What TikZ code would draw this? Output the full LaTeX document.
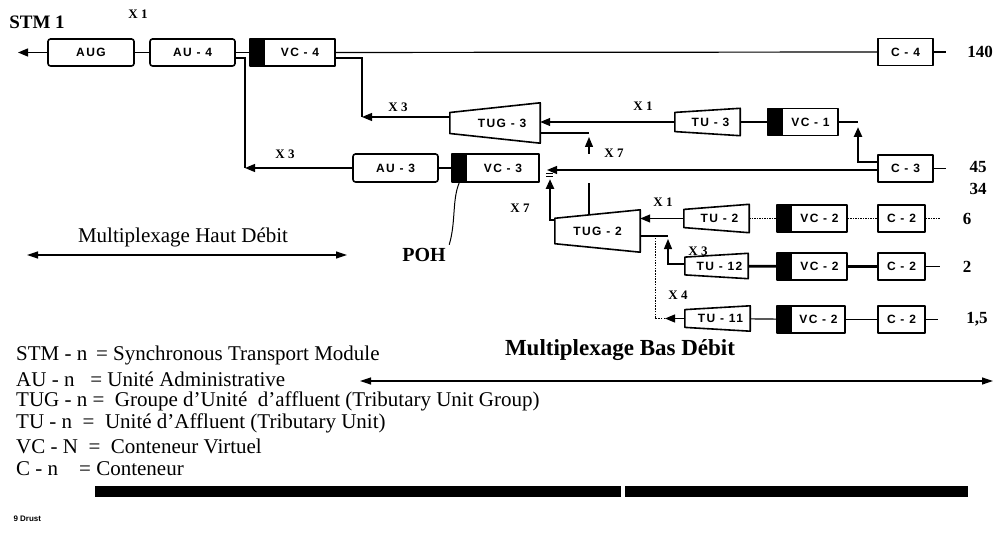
\documentclass[tikz,border=0pt]{standalone}
\usepackage{fontspec}
\setmainfont{Liberation Serif}
\newfontfamily\labfont[LetterSpace=12]{Liberation Sans}
\newfontfamily\smallsans{Liberation Sans}
\usetikzlibrary{arrows.meta,calc}
\newcommand{\blab}{\labfont\bfseries\fontsize{12}{13}\selectfont}
\newcommand{\taperbox}[2]{\draw[boxborder] (#1.north east) -- (#1.south east) -- ($(#1.south west)!#2!(#1.north west)$) -- ($(#1.north west)!#2!(#1.south west)$) -- cycle;}
\begin{document}
\begin{tikzpicture}[x=1pt,y=-1pt,
  boxborder/.style={line width=1.6pt, line join=round},
  plainbox/.style={draw, boxborder, minimum height=27pt, inner sep=0pt, font=\blab},
  roundbox/.style={plainbox, rounded corners=2.5pt},
  vcbox/.style={plainbox, path picture={\fill[black] (path picture bounding box.south west) rectangle ([xshift=15pt]path picture bounding box.north west);}},
  tubox/.style={inner sep=0pt, minimum height=27pt, font=\blab},
  conn/.style={line width=1.2pt},
  heavy/.style={line width=2.8pt},
  dotconn/.style={line width=1pt, dash pattern=on 1.5pt off 1pt},
  tip/.style={-{Triangle[length=10pt,width=8pt]}},
  dtip/.style={{Triangle[length=11pt,width=7pt]}-{Triangle[length=11pt,width=7pt]}},
  mult/.style={font=\bfseries\fontsize{13}{14}\selectfont},
  legend/.style={anchor=west, inner sep=0pt, font=\fontsize{21}{22}\selectfont},
  rate/.style={font=\bfseries\fontsize{17}{18}\selectfont}
]
\useasboundingbox (0,0) rectangle (1001,556);

% ---- top row
\node[font=\bfseries\fontsize{19}{20}\selectfont] (stm1) at (37,22) {STM 1};
\node[mult] (m1) at (138,14) {X 1};
\node[roundbox, minimum width=86pt] (aug) at (91,52.5) {AUG};
\node[roundbox, minimum width=85pt] (au4) at (192.5,52.5) {AU - 4};
\node[vcbox, minimum width=85pt] (vc4) at (292.5,52.5) {\hspace*{15pt}VC - 4};
\node[plainbox, minimum width=55pt] (c4) at (905.5,52) {C - 4};
\node[rate] (r140) at (980,52) {140};

\coordinate (stmout) at (18,52.5);
\draw[conn,tip] (aug.west) -- (stmout);
\draw[conn] (aug) -- (au4);
\draw[conn] (au4) -- (vc4);
\draw[conn] (vc4) -- (c4);
\draw[conn] (c4.east) -- ++(12,0);

% ---- AU-3 / VC-3
\node[roundbox, minimum width=85pt, minimum height=28pt] (au3) at (395.5,168) {AU - 3};
\node[vcbox, minimum width=87pt, minimum height=28pt] (vc3) at (495.5,168) {\hspace*{15pt}VC - 3};
\draw[conn] (au3) -- (vc3);
\coordinate (au4out) at (235,58);
\coordinate (au4down) at (245,58);
\coordinate (au3turn) at (245,168);
\draw[conn] (au4out) -- (au4down) -- (au3turn);
\draw[conn,tip] (au3.west) -- (au3turn);
\node[mult] (m3a) at (285,154) {X 3};

% ---- TUG-3 / TU-3 / VC-1
\node[tubox, minimum width=90pt, minimum height=40pt] (tug3) at (495,123) {\hspace*{14pt}TUG - 3};
\taperbox{tug3}{0.24}
\coordinate (vc4out) at (335,58);
\coordinate (vc4down) at (362,58);
\coordinate (tug3turn) at (362,117);
\coordinate (tug3in) at (450,117);
\draw[conn] (vc4out) -- (vc4down) -- (tug3turn);
\draw[conn,tip] (tug3in) -- (tug3turn);
\node[mult] (m3b) at (398,107) {X 3};

\node[tubox, minimum width=65pt] (tu3) at (707.5,122) {\hspace*{6pt}TU - 3};
\taperbox{tu3}{0.15}
\draw[conn,tip] (tu3.west) -- (tug3.east |- tu3.west);
\node[mult] (m1b) at (643,106) {X 1};
\node[vcbox, minimum width=70pt] (vc1) at (803,122) {\hspace*{15pt}VC - 1};
\draw[conn] (tu3) -- (vc1);
\draw[conn] (vc1.east) -- ++(19,0);

% ---- C-3
\node[plainbox, minimum width=55pt] (c3) at (905.5,168.5) {C - 3};
\coordinate (c3turn) at (858,162);
\coordinate (vc1feed) at (858,127);
\draw[heavy,tip] (c3.west |- c3turn) -- (c3turn) -- (vc1feed);
\draw[conn] (c3.east) -- ++(12,0);
\node[rate] (r45) at (978,167) {45};
\node[rate] (r34) at (978,189) {34};
\coordinate (vc3in) at (547,170);
\draw[conn,tip] (c3.west |- vc3in) -- (vc3in);

% ---- X7 to TUG-3
\coordinate (tug3stub) at (589,133);
\coordinate (x7top) at (589,137);
\coordinate (x7base) at (589,154);
\coordinate (x7low) at (589,183);
\coordinate (tug2top) at (589,214);
\draw[conn] (tug3.east |- tug3stub) -- (tug3stub);
\draw[conn,tip] (x7base) -- (x7top);
\draw[conn] (tug2top) -- (x7low);
\node[mult] (m7a) at (614,153) {X 7};

% ---- POH
\node[font=\bfseries\fontsize{20}{22}\selectfont] (poh) at (424,255) {POH};
\draw[line width=1pt] ($(vc3.south west)+(8,0)$) .. controls (452,200) and (456,222) .. (poh.north east);

% ---- Haut debit
\node[font=\fontsize{21}{22}\selectfont] (haut) at (183,237) {Multiplexage Haut Débit};
\coordinate (hautL) at (27,255);
\coordinate (hautR) at (347,255);
\draw[conn,dtip] (hautL) -- (hautR);

% ---- TUG-2
\node[tubox, minimum width=85pt, minimum height=42pt] (tug2) at (597.5,231) {TUG - 2};
\taperbox{tug2}{0.2}
\coordinate (tug2turn) at (550,220);
\coordinate (vc3feed) at (550,179);
\draw[heavy,tip] (tug2.west |- tug2turn) -- (tug2turn) -- (vc3feed);
\draw[line width=0.8pt] (546,173) -- (553,173) (546,176) -- (553,176);
\node[mult] (m7b) at (520,208) {X 7};

% row 1
\node[tubox, minimum width=65pt, minimum height=28pt] (tu2) at (716.5,218.5) {\hspace*{6pt}TU - 2};
\taperbox{tu2}{0.18}
\draw[conn,tip] (tu2.west) -- (tug2.east |- tu2.west);
\node[mult] (m1c) at (663,202) {X 1};
\node[vcbox, minimum width=70pt] (vc2a) at (812,218.5) {\hspace*{15pt}VC - 2};
\node[plainbox, minimum width=47pt] (c2a) at (901.5,218.5) {C - 2};
\draw[dotconn] (tu2) -- (vc2a);
\draw[dotconn] (vc2a) -- (c2a);
\draw[dotconn] (c2a.east) -- ++(14,0);
\node[rate] (r6) at (967,219) {6};

% row 2
\node[tubox, minimum width=63pt, minimum height=25pt] (tu12) at (716.5,266) {\hspace*{6pt}TU - 12};
\taperbox{tu12}{0.15}
\node[vcbox, minimum width=70pt] (vc2b) at (812,266.5) {\hspace*{15pt}VC - 2};
\node[plainbox, minimum width=47pt] (c2b) at (901.5,266.5) {C - 2};
\draw[heavy] (tu12) -- (vc2b);
\draw[heavy] (vc2b) -- (c2b);
\draw[conn] (c2b.east) -- ++(14,0);
\node[rate] (r2) at (967,267) {2};
\coordinate (tug2low) at (668,236);
\coordinate (tu12turn) at (668,264);
\coordinate (tu12tip) at (668,239);
\draw[conn] (tug2.east |- tug2low) -- (tug2low);
\draw[conn,tip] (tu12.west |- tu12turn) -- (tu12turn) -- (tu12tip);
\node[mult] (m3c) at (698,251) {X 3};

% row 3
\node[tubox, minimum width=65pt, minimum height=25pt] (tu11) at (717.5,318.5) {\hspace*{6pt}TU - 11};
\taperbox{tu11}{0.15}
\node[vcbox, minimum width=68pt] (vc2c) at (811,319.5) {\hspace*{15pt}VC - 2};
\node[plainbox, minimum width=47pt] (c2c) at (901.5,319.5) {C - 2};
\draw[conn] (tu11) -- (vc2c);
\draw[conn] (vc2c) -- (c2c);
\draw[conn] (c2c.east) -- ++(12,0);
\node[rate] (r15) at (977,319) {1,5};
\coordinate (tu11tip) at (665,318.5);
\coordinate (tu11turn) at (655,318.5);
\coordinate (tu11top) at (655,236);
\draw[conn,tip] (tu11.west) -- (tu11tip);
\draw[line width=1pt, dash pattern=on 1.5pt off 1.2pt] (tu11tip) -- (tu11turn) -- (tu11top);
\node[mult] (m4) at (678,295) {X 4};

% ---- Bas debit
\node[font=\bfseries\fontsize{23}{24}\selectfont] (bas) at (620,350) {Multiplexage Bas Débit};
\coordinate (basL) at (360,381);
\coordinate (basR) at (993,381);
\draw[conn,dtip] (basL) -- (basR);

% ---- legend
\node[legend] (l1) at (16,355) {STM - n \,= Synchronous Transport Module};
\node[legend] (l2) at (16,379) {AU - n \ \ = Unité Administrative};
\node[legend] (l3) at (16,401) {TUG - n = \ Groupe d'Unité \ d'affluent (Tributary Unit Group)};
\node[legend] (l4) at (16,423) {TU - n \ = \ Unité d'Affluent (Tributary Unit)};
\node[legend] (l5) at (16,446) {VC - N \ = \ Conteneur Virtuel};
\node[legend] (l6) at (16,469) {C - n \ \ \ = Conteneur};

% ---- bar
\fill[black] (95,486) rectangle (621,497);
\fill[black] (625,486) rectangle (968,497);
\node[anchor=west, font=\smallsans\bfseries\fontsize{8}{9}\selectfont] (drust) at (10,519) {9 Drust};
\end{tikzpicture}
\end{document}
